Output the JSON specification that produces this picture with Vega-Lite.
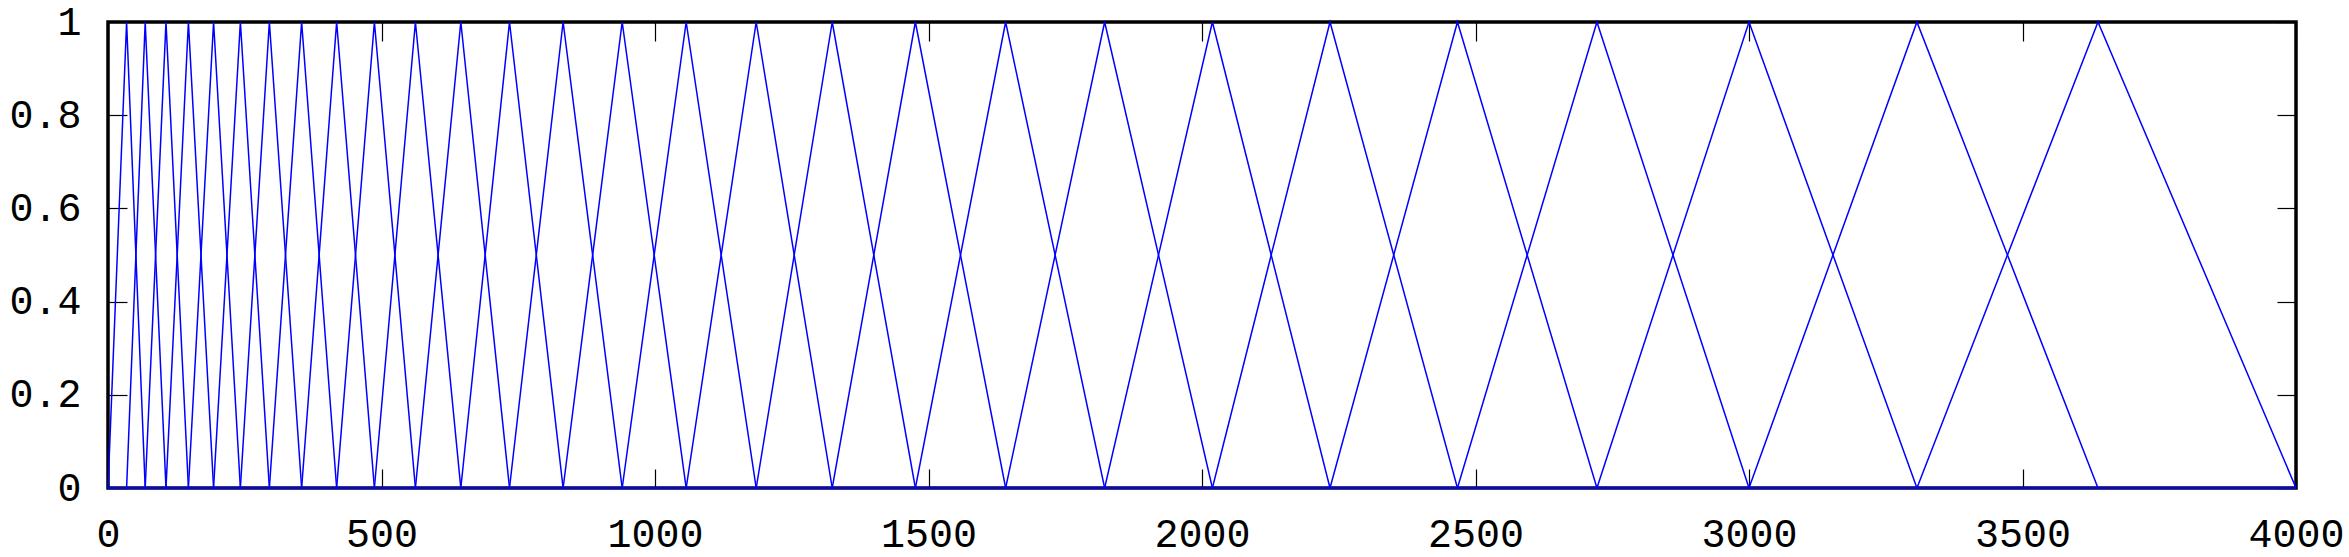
{
  "$schema": "https://vega.github.io/schema/vega-lite/v6.json",
  "width": 2188,
  "height": 466,
  "autosize": {"type": "none"},
  "padding": {"left": 108, "top": 22, "right": 53, "bottom": 69},
  "background": "white",
  "view": {"stroke": "#000000", "strokeWidth": 3.5},
  "config": {
    "view": {"stroke": "#000000", "strokeWidth": 3.5},
    "axis": {
      "grid": false,
      "domain": false,
      "labelFont": "Liberation Mono",
      "labelFontSize": 40,
      "labelColor": "#000000",
      "tickColor": "#000000",
      "tickWidth": 1.2,
      "tickSize": -19,
      "title": null
    }
  },
  "data": {
    "values": [
      {"k":1,"f":0,"v":0},{"k":1,"f":34,"v":1},{"k":1,"f":68,"v":0},{"k":1,"f":4000,"v":0},
      {"k":2,"f":0,"v":0},{"k":2,"f":34,"v":0},{"k":2,"f":68,"v":1},{"k":2,"f":106,"v":0},{"k":2,"f":4000,"v":0},
      {"k":3,"f":0,"v":0},{"k":3,"f":68,"v":0},{"k":3,"f":106,"v":1},{"k":3,"f":147,"v":0},{"k":3,"f":4000,"v":0},
      {"k":4,"f":0,"v":0},{"k":4,"f":106,"v":0},{"k":4,"f":147,"v":1},{"k":4,"f":193,"v":0},{"k":4,"f":4000,"v":0},
      {"k":5,"f":0,"v":0},{"k":5,"f":147,"v":0},{"k":5,"f":193,"v":1},{"k":5,"f":242,"v":0},{"k":5,"f":4000,"v":0},
      {"k":6,"f":0,"v":0},{"k":6,"f":193,"v":0},{"k":6,"f":242,"v":1},{"k":6,"f":295,"v":0},{"k":6,"f":4000,"v":0},
      {"k":7,"f":0,"v":0},{"k":7,"f":242,"v":0},{"k":7,"f":295,"v":1},{"k":7,"f":354,"v":0},{"k":7,"f":4000,"v":0},
      {"k":8,"f":0,"v":0},{"k":8,"f":295,"v":0},{"k":8,"f":354,"v":1},{"k":8,"f":418,"v":0},{"k":8,"f":4000,"v":0},
      {"k":9,"f":0,"v":0},{"k":9,"f":354,"v":0},{"k":9,"f":418,"v":1},{"k":9,"f":487,"v":0},{"k":9,"f":4000,"v":0},
      {"k":10,"f":0,"v":0},{"k":10,"f":418,"v":0},{"k":10,"f":487,"v":1},{"k":10,"f":562,"v":0},{"k":10,"f":4000,"v":0},
      {"k":11,"f":0,"v":0},{"k":11,"f":487,"v":0},{"k":11,"f":562,"v":1},{"k":11,"f":645,"v":0},{"k":11,"f":4000,"v":0},
      {"k":12,"f":0,"v":0},{"k":12,"f":562,"v":0},{"k":12,"f":645,"v":1},{"k":12,"f":734,"v":0},{"k":12,"f":4000,"v":0},
      {"k":13,"f":0,"v":0},{"k":13,"f":645,"v":0},{"k":13,"f":734,"v":1},{"k":13,"f":832,"v":0},{"k":13,"f":4000,"v":0},
      {"k":14,"f":0,"v":0},{"k":14,"f":734,"v":0},{"k":14,"f":832,"v":1},{"k":14,"f":940,"v":0},{"k":14,"f":4000,"v":0},
      {"k":15,"f":0,"v":0},{"k":15,"f":832,"v":0},{"k":15,"f":940,"v":1},{"k":15,"f":1057,"v":0},{"k":15,"f":4000,"v":0},
      {"k":16,"f":0,"v":0},{"k":16,"f":940,"v":0},{"k":16,"f":1057,"v":1},{"k":16,"f":1185,"v":0},{"k":16,"f":4000,"v":0},
      {"k":17,"f":0,"v":0},{"k":17,"f":1057,"v":0},{"k":17,"f":1185,"v":1},{"k":17,"f":1324,"v":0},{"k":17,"f":4000,"v":0},
      {"k":18,"f":0,"v":0},{"k":18,"f":1185,"v":0},{"k":18,"f":1324,"v":1},{"k":18,"f":1476,"v":0},{"k":18,"f":4000,"v":0},
      {"k":19,"f":0,"v":0},{"k":19,"f":1324,"v":0},{"k":19,"f":1476,"v":1},{"k":19,"f":1641,"v":0},{"k":19,"f":4000,"v":0},
      {"k":20,"f":0,"v":0},{"k":20,"f":1476,"v":0},{"k":20,"f":1641,"v":1},{"k":20,"f":1822,"v":0},{"k":20,"f":4000,"v":0},
      {"k":21,"f":0,"v":0},{"k":21,"f":1641,"v":0},{"k":21,"f":1822,"v":1},{"k":21,"f":2019,"v":0},{"k":21,"f":4000,"v":0},
      {"k":22,"f":0,"v":0},{"k":22,"f":1822,"v":0},{"k":22,"f":2019,"v":1},{"k":22,"f":2234,"v":0},{"k":22,"f":4000,"v":0},
      {"k":23,"f":0,"v":0},{"k":23,"f":2019,"v":0},{"k":23,"f":2234,"v":1},{"k":23,"f":2467,"v":0},{"k":23,"f":4000,"v":0},
      {"k":24,"f":0,"v":0},{"k":24,"f":2234,"v":0},{"k":24,"f":2467,"v":1},{"k":24,"f":2722,"v":0},{"k":24,"f":4000,"v":0},
      {"k":25,"f":0,"v":0},{"k":25,"f":2467,"v":0},{"k":25,"f":2722,"v":1},{"k":25,"f":3000,"v":0},{"k":25,"f":4000,"v":0},
      {"k":26,"f":0,"v":0},{"k":26,"f":2722,"v":0},{"k":26,"f":3000,"v":1},{"k":26,"f":3307,"v":0},{"k":26,"f":4000,"v":0},
      {"k":27,"f":0,"v":0},{"k":27,"f":3000,"v":0},{"k":27,"f":3307,"v":1},{"k":27,"f":3638,"v":0},{"k":27,"f":4000,"v":0},
      {"k":28,"f":0,"v":0},{"k":28,"f":3307,"v":0},{"k":28,"f":3638,"v":1},{"k":28,"f":4000,"v":0}
    ]
  },
  "layer": [
    {
      "mark": {"type": "line", "color": "#0000ff", "strokeWidth": 1.5},
      "encoding": {
        "x": {"field": "f", "type": "quantitative", "scale": {"domain": [0, 4000], "nice": false},
              "axis": {"orient": "bottom", "values": [0,500,1000,1500,2000,2500,3000,3500,4000], "format": "d", "labelPadding": 45, "labelFlush": false}},
        "y": {"field": "v", "type": "quantitative", "scale": {"domain": [0, 1], "nice": false},
              "axis": {"orient": "left", "values": [0,0.2,0.4,0.6,0.8,1], "format": "~g", "labelPadding": 46, "labelFlush": false}},
        "detail": {"field": "k", "type": "nominal"}
      }
    },
    {
      "mark": {"type": "line", "opacity": 0},
      "encoding": {
        "x": {"field": "f", "type": "quantitative",
              "axis": {"orient": "top", "values": [0,500,1000,1500,2000,2500,3000,3500,4000], "labels": false}},
        "y": {"field": "v", "type": "quantitative",
              "axis": {"orient": "right", "values": [0,0.2,0.4,0.6,0.8,1], "labels": false}},
        "detail": {"field": "k", "type": "nominal"}
      }
    }
  ],
  "resolve": {"axis": {"x": "independent", "y": "independent"}}
}
